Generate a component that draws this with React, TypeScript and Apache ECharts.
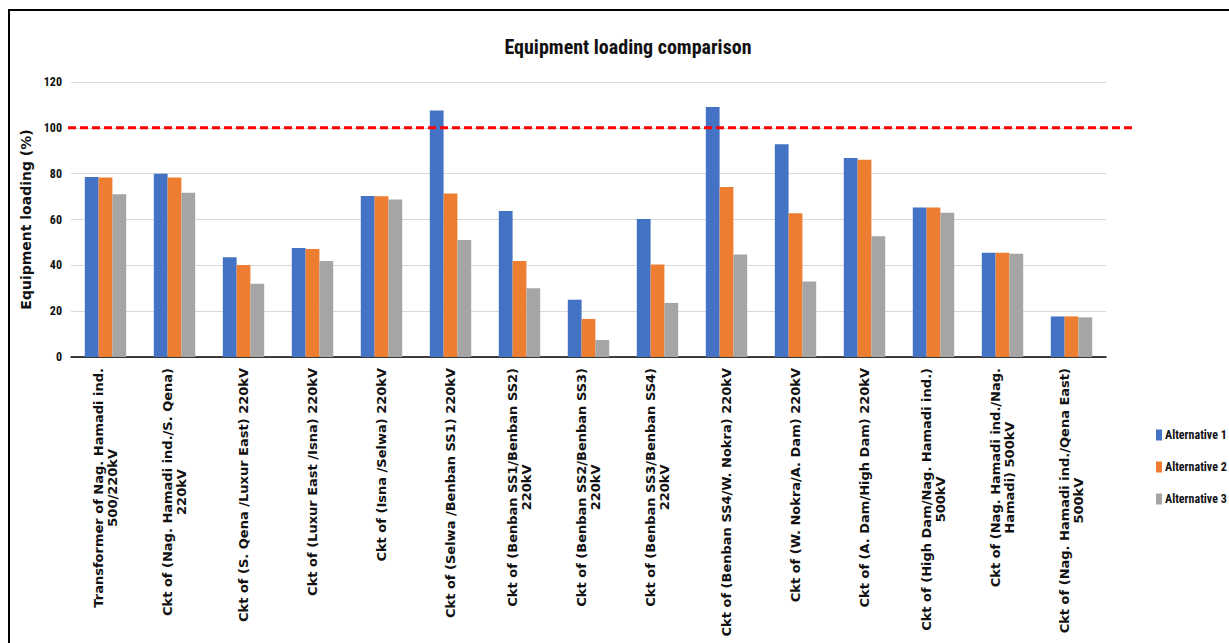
import React, { useEffect, useRef } from "react";
import * as echarts from "echarts";

const categories: string[] = [
  "Transformer of Nag. Hamadi ind.\n500/220kV",
  "Ckt of (Nag. Hamadi ind./S. Qena)\n220kV",
  "Ckt of (S. Qena /Luxur East) 220kV",
  "Ckt of (Luxur East /Isna) 220kV",
  "Ckt of (Isna /Selwa) 220kV",
  "Ckt of (Selwa /Benban SS1) 220kV",
  "Ckt of (Benban SS1/Benban SS2)\n220kV",
  "Ckt of (Benban SS2/Benban SS3)\n220kV",
  "Ckt of (Benban SS3/Benban SS4)\n220kV",
  "Ckt of (Benban SS4/W. Nokra) 220kV",
  "Ckt of (W. Nokra/A. Dam) 220kV",
  "Ckt of (A. Dam/High Dam) 220kV",
  "Ckt of (High Dam/Nag. Hamadi ind.)\n500kV",
  "Ckt of (Nag. Hamadi ind./Nag.\nHamadi) 500kV",
  "Ckt of (Nag. Hamadi ind./Qena East)\n500kV",
];

const alternative1: number[] = [78.5, 80.0, 43.5, 47.6, 70.3, 107.6, 63.7, 25.0, 60.2, 109.1, 92.8, 86.8, 65.2, 45.5, 17.7];
const alternative2: number[] = [78.3, 78.3, 40.1, 47.1, 70.1, 71.3, 41.9, 16.6, 40.4, 74.2, 62.7, 86.1, 65.2, 45.5, 17.7];
const alternative3: number[] = [71.0, 71.7, 32.0, 41.9, 68.7, 51.1, 30.0, 7.4, 23.6, 44.7, 32.9, 52.7, 63.0, 45.1, 17.3];

const seriesNames: string[] = ["Alternative 1", "Alternative 2", "Alternative 3"];
const seriesColors: string[] = ["#4472C4", "#ED7D31", "#A5A5A5"];
const limitValue = 100;

const yTicks = { min: 0, max: 120, interval: 20 };

const narrow = "'Liberation Sans Narrow', 'Arial Narrow', 'Roboto Condensed', sans-serif";
const wide = "DejaVu Sans, Verdana, sans-serif";

export default function App() {
  const ref = useRef<HTMLDivElement | null>(null);

  useEffect(() => {
    if (!ref.current) return;
    const chart = echarts.init(ref.current, undefined, { renderer: "svg" });
    const data = [alternative1, alternative2, alternative3];
    chart.setOption({
      animation: false,
      backgroundColor: "#ffffff",
      title: {
        text: "Equipment loading comparison",
        left: 623,
        top: 32,
        textAlign: "center",
        textStyle: { fontFamily: narrow, fontWeight: "bold", fontSize: 20, color: "#111" },
      },
      legend: {
        orient: "vertical",
        left: 1156,
        top: 429,
        padding: 0,
        itemWidth: 6,
        itemHeight: 11,
        itemGap: 20,
        icon: "rect",
        textStyle: { fontFamily: narrow, fontWeight: "bold", fontSize: 12, color: "#111", padding: [0, 0, 0, -2] },
        data: seriesNames,
      },
      grid: { left: 71, right: 123, top: 82, bottom: 286, containLabel: false },
      xAxis: {
        type: "category",
        data: categories,
        axisLine: { lineStyle: { color: "#000", width: 1.5 } },
        axisTick: { show: false },
        axisLabel: {
          interval: 0,
          rotate: 90,
          margin: 11,
          formatter: (v: string) => v.split("\n").map((s) => "{c|" + s + "}").join("\n"),
          rich: {
            c: {
              align: "center",
              fontFamily: wide,
              fontWeight: "bold",
              fontSize: 13,
              lineHeight: 14,
              color: "#111",
            },
          },
        },
      },
      yAxis: {
        type: "value",
        min: yTicks.min,
        max: yTicks.max,
        interval: yTicks.interval,
        name: "Equipment loading (%)",
        nameLocation: "middle",
        nameGap: 26,
        nameTextStyle: { fontFamily: wide, fontWeight: "bold", fontSize: 14, color: "#111" },
        axisLine: { show: false },
        axisTick: { show: false },
        axisLabel: { fontFamily: narrow, fontWeight: "bold", fontSize: 12, color: "#111", margin: 9 },
        splitLine: { lineStyle: { color: "#d9d9d9", width: 1 } },
      },
      series: data.map((d, i) => ({
        name: seriesNames[i],
        type: "bar",
        data: d,
        barGap: "0%",
        barCategoryGap: "40%",
        itemStyle: { color: seriesColors[i] },
      })),
    });

    const py = chart.convertToPixel({ yAxisIndex: 0 }, limitValue) as number;
    chart.setOption({
      graphic: [
        {
          type: "line",
          shape: { x1: 68, y1: py, x2: 1132, y2: py },
          style: { stroke: "#ff0000", lineWidth: 3, lineDash: [8, 4] },
          z: 100,
        },
        {
          type: "rect",
          shape: { x: 9, y: 10, width: 1240, height: 660 },
          style: { fill: "none", stroke: "#000", lineWidth: 2 },
          silent: true,
        },
      ],
    });

    return () => chart.dispose();
  }, []);

  return (
    <div style={{ position: "fixed", left: 0, top: 0, width: 1229, height: 643, background: "#fff" }}>
      <div ref={ref} style={{ width: 1229, height: 643 }} />
    </div>
  );
}
